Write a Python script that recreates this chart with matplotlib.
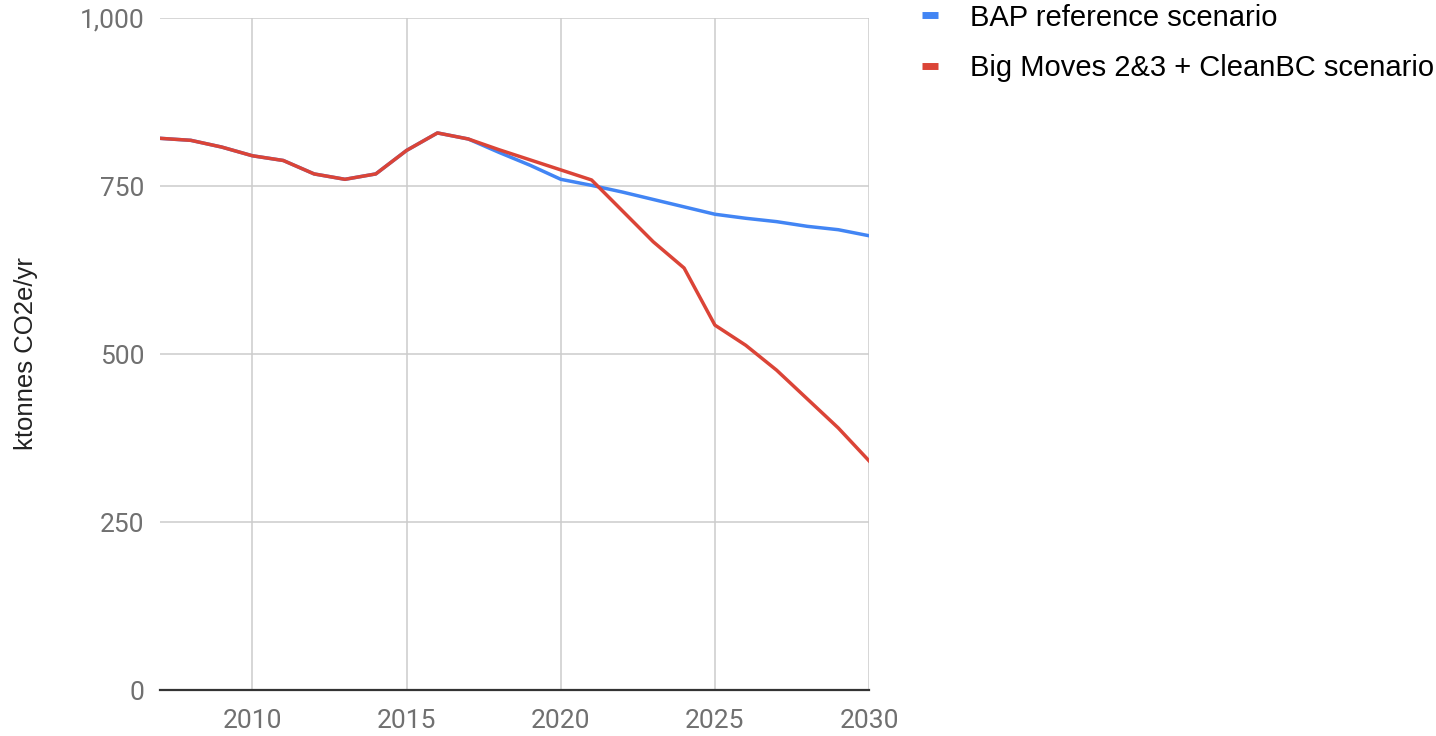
import matplotlib.pyplot as plt
from matplotlib.ticker import FuncFormatter

years = list(range(2007, 2031))

# BAP reference scenario (ktonnes CO2e/yr)
bap = [821, 818, 808, 795, 788, 768, 760, 768, 803, 829, 820,
       800, 781, 760, 751, 741, 730, 719, 708, 702, 697, 690, 685, 676]

# Big Moves 2&3 + CleanBC scenario
bigmoves = [821, 818, 808, 795, 788, 768, 760, 768, 803, 829, 820,
            804, 789, 774, 759, 713, 667, 628, 543, 513, 476, 433, 390, 341]

x_ticks = [2010, 2015, 2020, 2025, 2030]
y_ticks = [0, 250, 500, 750, 1000]

fig = plt.figure(figsize=(14.36, 7.36), dpi=100)
ax = fig.add_axes([0.1114, 0.0625, 0.4938, 0.913])

l1, = ax.plot(years, bap, color='#4285F4', lw=2.5, solid_joinstyle='round')
l2, = ax.plot(years, bigmoves, color='#DB4437', lw=2.5, solid_joinstyle='round')

ax.set_xlim(2007, 2030)
ax.set_ylim(0, 1000)
ax.set_xticks(x_ticks)
ax.set_yticks(y_ticks)
ax.yaxis.set_major_formatter(FuncFormatter(lambda v, p: f'{int(v):,}'))

ax.grid(True, color='#cccccc', lw=1.1)
ax.set_axisbelow(True)
ax.tick_params(length=0, labelsize=19, labelcolor='#707070')
ax.tick_params(axis='y', pad=11)
ax.tick_params(axis='x', pad=14)
for lab in ax.get_xticklabels() + ax.get_yticklabels():
    lab.set_family('Roboto')

for side in ['top', 'right', 'left']:
    ax.spines[side].set_visible(False)
ax.spines['bottom'].set_color('#333333')
ax.spines['bottom'].set_linewidth(1.6)

ax.set_ylabel('ktonnes CO2e/yr', fontsize=18.5, family='Liberation Sans',
              color='#222222', labelpad=30)

leg = fig.legend([l1, l2], ['BAP reference scenario', 'Big Moves 2&3 + CleanBC scenario'],
                 loc='upper left', bbox_to_anchor=(0.632, 1.015), frameon=False,
                 prop={'family': 'Liberation Sans', 'size': 21},
                 handlelength=0.55, handletextpad=1.1, labelspacing=0.76, borderpad=0)
for h in leg.legend_handles:
    h.set_linewidth(5)
    h.set_solid_capstyle('butt')

fig.savefig('out.png', dpi=100, facecolor='white')
